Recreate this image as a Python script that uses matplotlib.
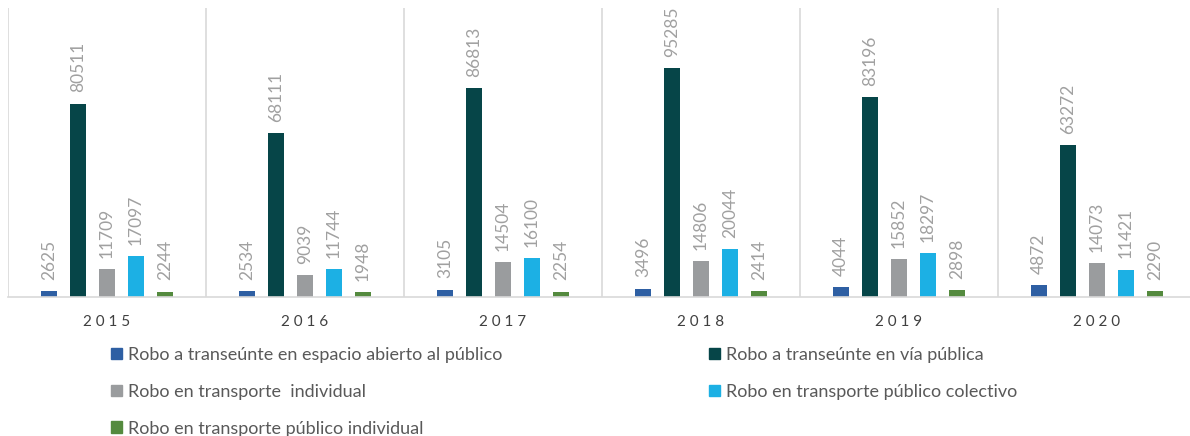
import matplotlib.pyplot as plt
import numpy as np
from matplotlib.patches import Patch

# Datos
years = ['2015', '2016', '2017', '2018', '2019', '2020']
series = [
    'Robo a transeúnte en espacio abierto al público',
    'Robo a transeúnte en vía pública',
    'Robo en transporte  individual',
    'Robo en transporte público colectivo',
    'Robo en transporte público individual',
]
espacio_abierto = [2625, 2534, 3105, 3496, 4044, 4872]
via_publica = [80511, 68111, 86813, 95285, 83196, 63272]
transp_individual = [11709, 9039, 14504, 14806, 15852, 14073]
publico_colectivo = [17097, 11744, 16100, 20044, 18297, 11421]
publico_individual = [2244, 1948, 2254, 2414, 2898, 2290]

values = [espacio_abierto, via_publica, transp_individual, publico_colectivo, publico_individual]
colors = ['#2E5FA3', '#064548', '#9A9C9E', '#1CB0E4', '#548A3E']

plt.rcParams['font.family'] = ['Lato', 'DejaVu Sans']

fig = plt.figure(figsize=(11.9, 4.36), dpi=100)
ax = fig.add_axes([8 / 1190, 139 / 436, 1188 / 1190, 289 / 436])

x = np.arange(len(years))
step = 0.146
width = 0.078
for i, (vals, c) in enumerate(zip(values, colors)):
    pos = x + (i - 2) * step
    bars = ax.bar(pos, vals, width=width, color=c, label=series[i])
    for b, v in zip(bars, vals):
        ax.annotate(str(v), (b.get_x() + b.get_width() / 2, v), xytext=(0, 8),
                    textcoords='offset points', rotation=90, ha='center', va='bottom',
                    fontsize=12.5, color='#A0A0A0')

# separadores de grupo
for g in range(len(years) + 1):
    ax.axvline(g - 0.5, color='#D9D9D9', linewidth=1.2, ymin=-0.01)

ax.set_xlim(-0.5, len(years) - 0.5)
ax.set_ylim(0, 120300)
ax.set_xticks(x)
ax.set_xticklabels([' '.join(list(y)) for y in years], fontsize=11, color='#404040')
ax.tick_params(axis='x', length=0, pad=13)
ax.set_yticks([])
for s in ['top', 'right', 'left']:
    ax.spines[s].set_visible(False)
ax.spines['bottom'].set_color('#D9D9D9')
ax.spines['bottom'].set_linewidth(1.2)

# leyenda en dos columnas
h = [Patch(color=c) for c in colors]
leg_kw = dict(frameon=False, labelcolor='#595959', handlelength=0.6,
              handleheight=0.6, handletextpad=0.35, labelspacing=1.15, borderaxespad=0,
              borderpad=0, prop={'size': 13})
fig.legend([h[0], h[2], h[4]], [series[0], series[2], series[4]], loc='upper left',
           bbox_to_anchor=(111 / 1190, 1 - 347 / 436), **leg_kw)
fig.legend([h[1], h[3]], [series[1], series[3]], loc='upper left',
           bbox_to_anchor=(709 / 1190, 1 - 347 / 436), **leg_kw)

fig.savefig('out.png', dpi=100)
